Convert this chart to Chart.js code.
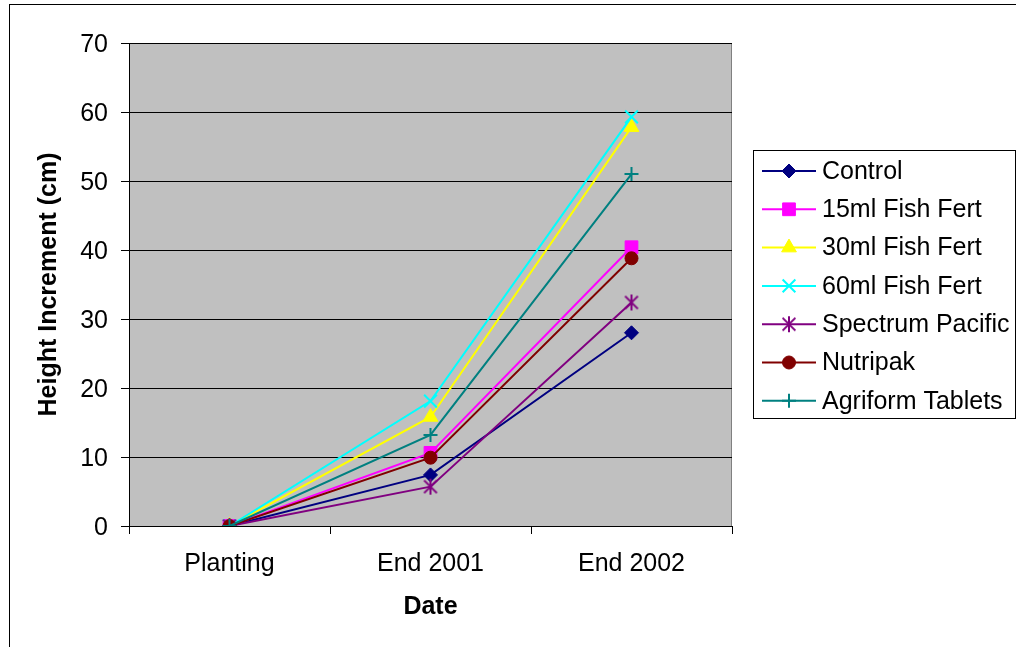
<!DOCTYPE html>
<html>
<head>
<meta charset="utf-8">
<script src="https://cdn.jsdelivr.net/npm/chart.js@4/dist/chart.umd.min.js"></script>
<style>
  html, body { margin: 0; padding: 0; background: #fff; }
  canvas { display: block; }
</style>
</head>
<body>
<canvas id="c" width="1016" height="647"></canvas>
<script>
// Sampling dates and height increments (cm) per treatment
const categories = ['Planting', 'End 2001', 'End 2002'];
const control  = [0, 7.4, 28.0];
const fish15   = [0, 10.6, 40.4];
const fish30   = [0, 15.8, 57.8];
const fish60   = [0, 18.1, 59.3];
const spectrum = [0, 5.7, 32.4];
const nutripak = [0, 9.9, 38.8];
const agriform = [0, 13.2, 51.0];

const seriesNames = ['Control', '15ml Fish Fert', '30ml Fish Fert', '60ml Fish Fert',
                     'Spectrum Pacific', 'Nutripak', 'Agriform Tablets'];
const seriesValues = [control, fish15, fish30, fish60, spectrum, nutripak, agriform];

const yMin = 0, yMax = 70, yStep = 10;
const yTitle = 'Height Increment (cm)';
const xTitle = 'Date';

const FONT = "'Liberation Sans', Arial, Helvetica, sans-serif";
const FONT_SIZE = 25;

// Six-armed asterisk marker (X plus a vertical stroke)
function makeAsterisk(color, r) {
  const s = Math.ceil(r * 2 + 4);
  const cv = document.createElement('canvas');
  cv.width = s; cv.height = s;
  const g = cv.getContext('2d');
  const c = s / 2;
  g.strokeStyle = color;
  g.lineWidth = 2;
  g.beginPath();
  g.moveTo(c - r * 0.8, c - r * 0.8); g.lineTo(c + r * 0.8, c + r * 0.8);
  g.moveTo(c + r * 0.8, c - r * 0.8); g.lineTo(c - r * 0.8, c + r * 0.8);
  g.moveTo(c, c - r); g.lineTo(c, c + r);
  g.stroke();
  return cv;
}

const styles = [
  { color: '#000080', point: 'rectRot',  radius: 7,   bw: 1 },
  { color: '#FF00FF', point: 'rect',     radius: 9,   bw: 1 },
  { color: '#FFFF00', point: 'triangle', radius: 8.5, bw: 1 },
  { color: '#00FFFF', point: 'crossRot', radius: 9,   bw: 2 },
  { color: '#800080', point: makeAsterisk('#800080', 8), radius: 8, bw: 2 },
  { color: '#800000', point: 'circle',   radius: 6.5, bw: 1 },
  { color: '#008080', point: 'cross',    radius: 7,   bw: 2 }
];

const datasets = seriesNames.map((name, i) => ({
  label: name,
  data: seriesValues[i],
  borderColor: styles[i].color,
  backgroundColor: styles[i].color,
  borderWidth: 2,
  pointStyle: styles[i].point,
  pointRadius: styles[i].radius,
  pointBorderWidth: styles[i].bw,
  pointBackgroundColor: styles[i].color,
  pointBorderColor: styles[i].color,
  tension: 0,
  order: seriesNames.length - i
}));

// White page, outer frame, grey plot area
const frame = {
  id: 'frame',
  beforeDraw(chart) {
    const { ctx, chartArea: a } = chart;
    ctx.save();
    ctx.fillStyle = '#ffffff';
    ctx.fillRect(0, 0, chart.width, chart.height);
    ctx.fillStyle = '#C0C0C0';
    ctx.fillRect(a.left, a.top, a.right - a.left, a.bottom - a.top);
    ctx.strokeStyle = '#808080';
    ctx.lineWidth = 1;
    ctx.strokeRect(Math.round(a.left) + 0.5, Math.round(a.top) + 0.5,
                   Math.round(a.right - a.left) - 1, Math.round(a.bottom - a.top));
    ctx.strokeStyle = '#000000';
    ctx.strokeRect(9.5, 4.5, chart.width + 50, chart.height + 50);
    ctx.restore();
  }
};

// Boxed legend on the right: line sample with marker, then name
const boxLegend = {
  id: 'boxLegend',
  afterDraw(chart) {
    const { ctx } = chart;
    const box = { x: 753.5, y: 150.5, w: 262, h: 268 };
    const firstRow = 171, rowGap = 38.3;
    ctx.save();
    ctx.strokeStyle = '#000000';
    ctx.lineWidth = 1;
    ctx.strokeRect(box.x, box.y, box.w, box.h);
    ctx.font = FONT_SIZE + 'px ' + FONT;
    ctx.textBaseline = 'middle';
    ctx.textAlign = 'left';
    chart.data.datasets.forEach((ds, i) => {
      const y = firstRow + i * rowGap;
      ctx.strokeStyle = ds.borderColor;
      ctx.lineWidth = 2;
      ctx.beginPath();
      ctx.moveTo(762, y); ctx.lineTo(816, y);
      ctx.stroke();
      ctx.fillStyle = ds.pointBackgroundColor;
      ctx.strokeStyle = ds.pointBorderColor;
      ctx.lineWidth = ds.pointBorderWidth;
      Chart.helpers.drawPoint(ctx, {
        pointStyle: ds.pointStyle, radius: ds.pointRadius,
        rotation: 0, borderWidth: ds.pointBorderWidth
      }, 789, y);
      ctx.fillStyle = '#000000';
      ctx.fillText(ds.label, 822, y + 1);
    });
    ctx.restore();
  }
};

new Chart(document.getElementById('c'), {
  type: 'line',
  data: { labels: categories, datasets },
  plugins: [frame, boxLegend],
  options: {
    responsive: false,
    animation: false,
    devicePixelRatio: 1,
    layout: { padding: { left: 0, top: 43, right: 284, bottom: 0 } },
    plugins: { legend: { display: false }, tooltip: { enabled: false } },
    scales: {
      x: {
        offset: true,
        grid: { offset: true, drawOnChartArea: false, drawTicks: true, tickLength: 8, color: '#000000' },
        border: { display: true, color: '#000000', width: 1 },
        ticks: { color: '#000000', font: { family: FONT, size: FONT_SIZE }, padding: 15, maxRotation: 0 },
        title: { display: true, text: xTitle, color: '#000000',
                 font: { family: FONT, size: FONT_SIZE, weight: 'bold' }, padding: { top: 0, bottom: 25 } },
        afterFit(scale) { scale.height = 121; }
      },
      y: {
        min: yMin, max: yMax,
        grid: { color: '#000000', lineWidth: 1, tickLength: 8, drawTicks: true },
        border: { display: true, color: '#000000', width: 1 },
        ticks: { stepSize: yStep, color: '#000000', font: { family: FONT, size: FONT_SIZE },
                 padding: 13, labelOffset: 2 },
        title: { display: true, text: yTitle, color: '#000000',
                 font: { family: FONT, size: FONT_SIZE, weight: 'bold' }, padding: { top: 34, bottom: 0 } },
        afterFit(scale) { scale.width = 129; }
      }
    }
  }
});
</script>
</body>
</html>
